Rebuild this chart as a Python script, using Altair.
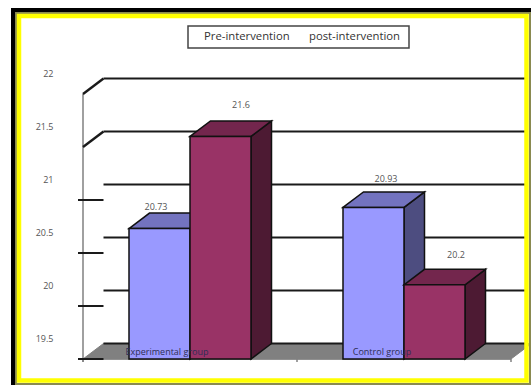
import altair as alt
import pandas as pd

# Chart values
groups = ["Experimental group", "Control group"]
series_names = ["Pre-intervention", "post-intervention"]
pre_values = [20.73, 20.93]
post_values = [21.6, 20.2]
value_ticks = [19.5, 20, 20.5, 21, 21.5, 22]

# Drawing geometry: 3-D box depth, bar layout and the fixed y range
W, H = 531, 385
BASE = 19.5
UNIT_PX = 106.0
DEPTH_X = 20.5
DEPTH_Y = 15.5 / UNIT_PX
BAR_W = 61
GROUP_LEFT = [129, 343]
AXIS_X = 83
BACK_X = AXIS_X + DEPTH_X
FRONT_END = 511
GRID_END = 525
Y_DOMAIN = [BASE - (H - 359) / UNIT_PX, BASE + 359 / UNIT_PX]

FILL = {
    "Pre-intervention": ("#9999ff", "#7373bf", "#4d4d80"),
    "post-intervention": ("#993366", "#73264d", "#4d1a33"),
}
EDGE = "#111111"
TEXT = "#555555"
FONT = "Open Sans"

x_scale = alt.Scale(domain=[0, W], range=[0, W], nice=False, zero=False)
y_scale = alt.Scale(domain=Y_DOMAIN, range=[H, 0], nice=False, zero=False)
# Labels sit up and to the left of the front ticks
y_axis = alt.Axis(
    values=value_ticks,
    orient="left",
    offset=-53,
    domain=False,
    ticks=False,
    grid=False,
    title=None,
    format="~g",
    labelOffset=-21,
    labelPadding=0,
    labelFont=FONT,
    labelFontSize=9,
    labelColor=TEXT,
)
X = alt.X("x:Q", scale=x_scale, axis=None)
Y = alt.Y("y:Q", scale=y_scale, axis=y_axis)
Y2 = alt.Y2("y2:Q")


def box_faces(left, value, box):
    """Outline points of the front, top and side of one 3-D bar."""
    right = left + BAR_W
    top = value + DEPTH_Y
    return {
        "front": [(left, value, BASE, box), (right, value, BASE, box)],
        "top": [
            (left, value, value, box),
            (left + DEPTH_X, top, value, box),
            (right, top, value, box),
            (right + DEPTH_X, top, top, box),
        ],
        "side": [
            (right, value, BASE, box),
            (right + DEPTH_X, top, BASE + DEPTH_Y, box),
        ],
    }


def polygon(points, color, edge=EDGE, width=1.5):
    frame = pd.DataFrame(points, columns=["x", "y", "y2", "box"])
    return (
        alt.Chart(frame)
        .mark_area(color=color, stroke=edge, strokeWidth=width, opacity=1, interpolate="linear")
        .encode(x=X, y=Y, y2=Y2, detail="box:N")
    )


layers = []

# Floor of the 3-D box
floor_top = BASE + DEPTH_Y
layers.append(
    polygon(
        [
            (AXIS_X, BASE, BASE, "floor"),
            (BACK_X, floor_top, BASE, "floor"),
            (FRONT_END, floor_top, BASE, "floor"),
            (FRONT_END + DEPTH_X, floor_top, floor_top, "floor"),
        ],
        "#808080",
        edge="#808080",
        width=1,
    )
)

# Gridlines on the back wall
grid = pd.DataFrame(
    {"y": [t + DEPTH_Y for t in value_ticks], "x": BACK_X, "x2": GRID_END}
)
layers.append(
    alt.Chart(grid)
    .mark_rule(color="#1a1a1a", strokeWidth=2)
    .encode(x=X, x2="x2:Q", y=Y)
)

# Axis lines and the ticks along the category axis
axis_line = pd.DataFrame({"x": [AXIS_X], "y": [22], "y2": [BASE - 3 / UNIT_PX]})
layers.append(
    alt.Chart(axis_line).mark_rule(color="#808080", strokeWidth=1.5).encode(x=X, y=Y, y2=Y2)
)
base_line = pd.DataFrame({"x": [AXIS_X], "x2": [FRONT_END], "y": [BASE]})
layers.append(
    alt.Chart(base_line).mark_rule(color="#808080", strokeWidth=1.5).encode(x=X, x2="x2:Q", y=Y)
)
cat_ticks = pd.DataFrame(
    {"x": [AXIS_X, (AXIS_X + FRONT_END) / 2, FRONT_END], "y": BASE, "y2": BASE - 3 / UNIT_PX}
)
layers.append(
    alt.Chart(cat_ticks).mark_rule(color="#808080", strokeWidth=1.5).encode(x=X, y=Y, y2=Y2)
)

# Slanted wall joints at the two highest ticks, short front ticks below them
slants = pd.DataFrame(
    [(AXIS_X, t, t) for t in [21.5, 22]] + [(BACK_X, t + DEPTH_Y, t) for t in [21.5, 22]],
    columns=["x", "y", "joint"],
)
layers.append(
    alt.Chart(slants)
    .mark_line(color="#1a1a1a", strokeWidth=2.4)
    .encode(x=X, y=Y, detail="joint:N")
)
front_ticks = pd.DataFrame(
    {"y": [t for t in value_ticks if t < 21.5], "x": AXIS_X - 5, "x2": BACK_X}
)
layers.append(
    alt.Chart(front_ticks)
    .mark_rule(color="#1a1a1a", strokeWidth=2)
    .encode(x=X, x2="x2:Q", y=Y)
)

# Bars: pre-intervention first, post-intervention in front of it
for name, values, shift in [
    (series_names[0], pre_values, 0),
    (series_names[1], post_values, BAR_W),
]:
    front, top, side = FILL[name]
    faces = {"side": [], "top": [], "front": []}
    for g, (left, value) in enumerate(zip(GROUP_LEFT, values)):
        for face, pts in box_faces(left + shift, value, f"{name}-{g}").items():
            faces[face].extend(pts)
    layers.append(polygon(faces["side"], side))
    layers.append(polygon(faces["top"], top))
    layers.append(polygon(faces["front"], front))

# Value labels above each box
label_shift_x = [[-3.5, 12.5], [20.5, 21.5]]
label_shift_y = [0.204, 0.292, 0.264, 0.283]
value_labels = pd.DataFrame(
    {
        "x": [
            GROUP_LEFT[0] + BAR_W / 2 + label_shift_x[0][0],
            GROUP_LEFT[1] + BAR_W / 2 + label_shift_x[0][1],
            GROUP_LEFT[0] + BAR_W * 1.5 + label_shift_x[1][0],
            GROUP_LEFT[1] + BAR_W * 1.5 + label_shift_x[1][1],
        ],
        "y": [
            pre_values[0] + label_shift_y[0],
            pre_values[1] + label_shift_y[2],
            post_values[0] + label_shift_y[1],
            post_values[1] + label_shift_y[3],
        ],
        "label": [str(pre_values[0]), str(pre_values[1]), str(post_values[0]), str(post_values[1])],
    }
)
layers.append(
    alt.Chart(value_labels)
    .mark_text(font=FONT, fontSize=9, color=TEXT, baseline="middle")
    .encode(x=X, y=Y, text="label:N")
)

# Category names overlap the foot of the bars
category_labels = pd.DataFrame(
    {"x": [167, 382], "y": BASE + 7 / UNIT_PX, "label": groups}
)
layers.append(
    alt.Chart(category_labels)
    .mark_text(font=FONT, fontSize=9, color="#2e2e55", baseline="middle")
    .encode(x=X, y=Y, text="label:N")
)

# Legend box: text only, no swatches
legend_box = alt.Chart(pd.DataFrame({"k": [0]})).mark_rect(
    fill="white", stroke="#444444", strokeWidth=1.5
).encode(x=alt.value(188), x2=alt.value(409), y=alt.value(26), y2=alt.value(48))
layers.append(legend_box)
for name, left in zip(series_names, [204, 309]):
    layers.append(
        alt.Chart(pd.DataFrame({"label": [name]}))
        .mark_text(font=FONT, fontSize=11.3, color="#333333", align="left", baseline="middle")
        .encode(x=alt.value(left), y=alt.value(36.5), text="label:N")
    )

# Picture frame: black, grey and yellow bands
for color, width, x0, x1, y0, y1 in [
    ("#000000", 4, 13, 531, 10, 385),
    ("#8a8a50", 2, 16, 530, 13, 384),
    ("#ffff00", 4.5, 19, 526.5, 16, 380.5),
]:
    layers.append(
        alt.Chart(pd.DataFrame({"k": [0]}))
        .mark_rect(fill="transparent", stroke=color, strokeWidth=width)
        .encode(x=alt.value(x0), x2=alt.value(x1), y=alt.value(y0), y2=alt.value(y1))
    )

chart = (
    alt.layer(*layers)
    .resolve_scale(x="shared", y="shared")
    .properties(
        width=W,
        height=H,
        padding=0,
        background="white",
        autosize=alt.AutoSizeParams(type="none"),
    )
    .configure_view(stroke=None)
)

chart.save("out.html", embed_options={"renderer": "svg", "actions": False})
